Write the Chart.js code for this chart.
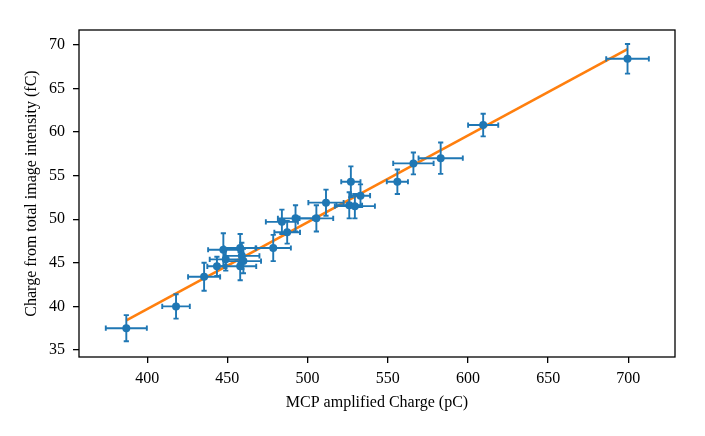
<!DOCTYPE html>
<html>
<head>
<meta charset="utf-8">
<script src="https://cdn.jsdelivr.net/npm/chart.js@4.4.0/dist/chart.umd.min.js"></script>
<style>
    html, body { margin: 0; padding: 0; background: #fff; }
    #wrap { width: 705px; height: 436px; }
</style>
</head>
<body>
<div id="wrap"><canvas id="chargeChart" width="705" height="436"></canvas></div>
<script>
// measured charge: MCP amplified (pC) vs. total image intensity (fC)
const mcpCharge = [387, 418, 435.5, 443.5, 447.5, 449, 458, 459, 460, 458, 478.6, 484, 487.3, 492.5, 505.5, 511.5, 527, 526, 529.5, 533, 556, 566, 583, 609.5, 699.5];
const imageCharge = [37.5, 40.0, 43.4, 44.6, 46.5, 45.4, 46.7, 45.8, 45.2, 44.6, 46.7, 49.7, 48.5, 50.1, 50.1, 51.9, 54.3, 51.6, 51.5, 52.7, 54.3, 56.4, 57.0, 60.8, 68.4];
const mcpErr = [12.8, 8.6, 10, 6, 9.5, 10, 10, 11, 11, 10, 11, 10, 8, 11, 10.5, 11, 6, 8, 12.5, 6, 6.6, 12.6, 13.8, 9.4, 13.3];
const imageErr = [1.5, 1.4, 1.6, 1.1, 1.9, 1.3, 1.6, 1.5, 1.4, 1.6, 1.5, 1.4, 1.3, 1.5, 1.5, 1.5, 1.76, 1.5, 1.4, 1.3, 1.4, 1.26, 1.8, 1.3, 1.7];

// linear fit end points
const fitX = [387, 699.5];
const fitY = [38.4, 69.5];

const xTicks = [400, 450, 500, 550, 600, 650, 700];
const yTicks = [35, 40, 45, 50, 55, 60, 65, 70];

const BLUE = '#1f77b4';
const ORANGE = '#ff7f0e';

Chart.defaults.font.family = "'Liberation Serif', 'Times New Roman', serif";
Chart.defaults.font.size = 16;
Chart.defaults.color = '#000';

const errorBars = {
    id: 'errorBars',
    afterDatasetDraw(chart, args) {
        if (args.index !== 1) return;
        const { ctx, scales: { x, y } } = chart;
        const cap = 2.6;
        ctx.save();
        ctx.strokeStyle = BLUE;
        ctx.lineWidth = 1.9;
        ctx.lineCap = 'butt';
        mcpCharge.forEach((xv, i) => {
            const yv = imageCharge[i];
            const px = x.getPixelForValue(xv);
            const py = y.getPixelForValue(yv);
            const x0 = x.getPixelForValue(xv - mcpErr[i]);
            const x1 = x.getPixelForValue(xv + mcpErr[i]);
            const y0 = y.getPixelForValue(yv - imageErr[i]);
            const y1 = y.getPixelForValue(yv + imageErr[i]);
            ctx.beginPath();
            ctx.moveTo(x0, py); ctx.lineTo(x1, py);
            ctx.moveTo(px, y0); ctx.lineTo(px, y1);
            // caps
            ctx.moveTo(x0, py - cap); ctx.lineTo(x0, py + cap);
            ctx.moveTo(x1, py - cap); ctx.lineTo(x1, py + cap);
            ctx.moveTo(px - cap, y0); ctx.lineTo(px + cap, y0);
            ctx.moveTo(px - cap, y1); ctx.lineTo(px + cap, y1);
            ctx.stroke();
        });
        ctx.restore();
    }
};

const frame = {
    id: 'frame',
    afterDraw(chart) {
        const { ctx, chartArea: a } = chart;
        ctx.save();
        ctx.strokeStyle = '#000';
        ctx.lineWidth = 1.3;
        ctx.strokeRect(a.left, a.top, a.right - a.left, a.bottom - a.top);
        ctx.restore();
    }
};

new Chart(document.getElementById('chargeChart'), {
    type: 'scatter',
    data: {
        datasets: [
            {
                label: 'data',
                data: mcpCharge.map((v, i) => ({ x: v, y: imageCharge[i] })),
                backgroundColor: BLUE,
                borderColor: BLUE,
                pointRadius: 4,
                pointBorderWidth: 0
            },
            {
                type: 'line',
                label: 'fit',
                data: fitX.map((v, i) => ({ x: v, y: fitY[i] })),
                borderColor: ORANGE,
                borderWidth: 2.6,
                pointRadius: 0,
                fill: false
            }
        ]
    },
    options: {
        responsive: false,
        animation: false,
        layout: { padding: { left: 0, top: 30, right: 30, bottom: 0 } },
        plugins: { legend: { display: false }, tooltip: { enabled: false } },
        scales: {
            x: {
                type: 'linear',
                min: 357.5,
                max: 729.1,
                afterBuildTicks: s => { s.ticks = xTicks.map(v => ({ value: v })); },
                afterFit: s => { s.height = 79; },
                grid: { display: true, drawOnChartArea: false, drawTicks: true, tickLength: 6, color: '#000', lineWidth: 1.3 },
                border: { display: false },
                ticks: { padding: 6, maxRotation: 0 },
                title: { display: true, text: 'MCP amplified Charge (pC)', padding: { top: 0, bottom: 24 } }
            },
            y: {
                type: 'linear',
                min: 34.2,
                max: 71.7,
                afterBuildTicks: s => { s.ticks = yTicks.map(v => ({ value: v })); },
                afterFit: s => { s.width = 79; },
                grid: { display: true, drawOnChartArea: false, drawTicks: true, tickLength: 6, color: '#000', lineWidth: 1.3 },
                border: { display: false },
                ticks: { padding: 8 },
                title: { display: true, text: 'Charge from total image intensity (fC)', padding: { top: 22, bottom: 0 } }
            }
        }
    },
    plugins: [errorBars, frame]
});
</script>
</body>
</html>
